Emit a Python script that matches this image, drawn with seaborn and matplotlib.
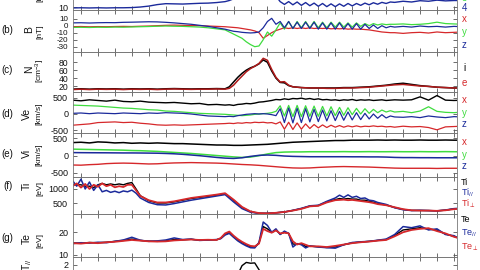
import numpy as np
import matplotlib
matplotlib.use("Agg")
import matplotlib.pyplot as plt
import seaborn as sns

sns.set_style("white")
plt.rcParams["font.family"] = ["Liberation Sans", "DejaVu Sans"]
plt.rcParams["axes.unicode_minus"] = False
plt.rcParams["mathtext.fontset"] = "custom"
plt.rcParams["mathtext.rm"] = "Liberation Sans"
plt.rcParams["mathtext.it"] = "Liberation Sans:italic"
plt.rcParams["mathtext.bf"] = "Liberation Sans:bold"

RED = "#d6282b"
GREEN = "#3fdc3f"
NAVY = "#1b2a9b"
BLACK = "#000000"

# ---------------- time grids (minutes, tick units) ----------------
t_ab = np.concatenate([np.arange(-1, 17) * 0.5, np.arange(34, 74) * 0.25, np.arange(37, 46) * 0.5])
t_c = np.concatenate([np.arange(-1, 17) * 0.5, np.arange(34, 50) * 0.25, np.arange(25, 46) * 0.5])
t_e = np.arange(-1, 46) * 0.5
t_f = np.concatenate([np.arange(-2, 14) * 0.25, np.arange(7, 30) * 0.5, np.arange(60, 70) * 0.25, np.arange(35, 46) * 0.5])
t_g = np.concatenate([np.arange(-1, 16) * 0.5, np.arange(32, 54) * 0.25, np.arange(27, 46) * 0.5])

# ---------------- (a) |B| ----------------
a_b4 = ([9.6, 9.7, 9.6, 9.7, 9.6, 9.7, 9.7, 9.8, 10.1, 10.6, 11.4, 11.9, 11.8, 11.7, 11.9, 12.1, 12.2, 12.5]
        + [13.0, 13.6, 14.5, 16, 19, 23, 27, 32, 35, 35, 32, 24, 16, 13, 11.5, 13, 11.3, 12.8, 11, 12.5,
           10.8, 12.2, 10.5, 12, 10.3, 11.8, 10.3, 11.8, 10.5, 12, 10.7, 12, 11, 12.2, 11.3, 12.4, 11.6, 12.6, 12, 12.8]
        + [12.6, 13.2, 12.8, 13.5, 13.2, 13.8, 13.4, 13.6, 13.6])

# ---------------- (b) B components [nT] ----------------
b_x = ([-1.5, -1.2, -1.6, -1.3, -1.5, -1.2, -1.0, -1.2, -0.8, -0.5, 0, 0.5, 0.8, 0.5, 0.2, 0, -0.5, -1.0]
       + [-1.5, -2, -2.5, -3, -4, -5, -6, -7.5, -10, -18, -14, -10, -7, -5, -3, -4, -3, -4, -3, -4,
          -3, -4, -3.5, -4, -3.5, -4.5, -4, -4.5, -4, -5, -4.5, -5, -5, -5.5, -6, -7, -8, -9, -9.5, -10]
       + [-10, -11, -10, -9.5, -10.5, -9, -10, -9.5, -9])
b_y = ([-2.5, -2.3, -2.6, -2.2, -2.4, -2.0, -2.2, -1.8, -1.5, -1.2, -0.8, -0.5, -0.8, -1.0, -1.5, -2.0, -3.0, -4.5]
       + [-6, -9, -12, -15, -18, -23, -27, -30, -29, -20, -9, -15, -6, 4, -5, 6, -4, 6, -3, 6,
          -3, 6, -3, 5, -3, 5, -2, 5, -2, 4, -2, 4, -1, 3, 0, 3, 1, 2.5, 1.5, 2]
       + [2, 2.5, 1.5, 2, 3, 5, 3, 2.5, 2])
b_z = ([4.0, 4.2, 3.8, 4.2, 4.4, 4.3, 4.8, 5.0, 5.3, 5.6, 5.4, 4.8, 4.0, 3.0, 2.0, 0.5, -1.0, -3.0]
       + [-5, -6.5, -8, -8.6, -9.5, -10, -10.4, -10, -9, -3, 6, 10.5, 2, 6, -3, 6, -4, 5, -4, 5,
          -4, 5, -5, 4, -5, 4, -5, 4, -5, 3, -5, 3, -5, 2, -4, 1, -4, 0, -3, -1]
       + [-2, -1, -2, -0.5, -1.5, -1, -2, -1, -1.5])

# ---------------- (c) density [cm^-3] ----------------
n_i = ([12, 13, 12, 13, 12.5, 13, 12, 13, 12.5, 13, 12, 13, 13.5, 13, 12.5, 13, 13, 13.5]
       + [13, 18, 30, 42, 52, 60, 66, 70, 76, 86, 80, 58, 40, 29, 28, 21]
       + [18, 16, 15, 15, 15, 15, 16, 16, 17, 18, 20, 22, 25, 27, 24, 21, 19, 17, 16, 15, 15])
n_e = ([11, 12, 11, 12, 11.5, 12, 11, 12, 11.5, 12, 11, 12, 12.5, 12, 11.5, 12, 12, 12.5]
       + [12, 14, 22, 34, 45, 56, 64, 70, 77, 90, 85, 62, 42, 30, 31, 22]
       + [18, 16, 15, 15, 14, 14, 15, 15, 16, 17, 19, 21, 23, 24, 22, 20, 19, 17, 16, 15, 15])

# ---------------- (d) Ve [km/s] ----------------
ve_x = ([-340, -320, -300, -260, -250, -240, -260, -250, -280, -300, -330, -340, -330, -340, -330, -320, -310, -300]
        + [-290, -280, -290, -270, -280, -260, -270, -250, -260, -250, -270, -260, -300, -240, -460, -250, -470, -270, -460, -300,
           -440, -320, -420, -330, -410, -340, -400, -350, -400, -360, -390, -360, -390, -370, -380, -360, -380, -370, -390, -380]
        + [-400, -370, -390, -380, -410, -480, -390, -380, -370])
ve_y = ([270, 260, 250, 240, 220, 200, 180, 170, 150, 130, 120, 90, 80, 60, 40, 20, 10, 0]
        + [-10, -20, -30, -40, -50, -40, -30, -10, 0, 10, 20, 40, 80, 250, -60, 260, -80, 260, -80, 250,
           -70, 240, -70, 230, -60, 220, -50, 200, -40, 190, -20, 170, 0, 160, 20, 140, 40, 120, 60, 100]
        + [60, 80, 40, 90, 220, 80, 50, 40, 60])
ve_z = ([20, 30, 10, 30, 20, 10, 30, 20, 10, 30, 20, 40, 30, 20, 0, -30, -60, -70]
        + [-80, -70, -80, -50, -30, -10, 0, 10, 0, 10, 0, -20, -50, 160, -260, 180, -270, 170, -260, 160,
           -240, 140, -230, 120, -210, 100, -200, 80, -190, 60, -180, 40, -170, 20, -150, 0, -130, -20, -120, -60]
        + [-90, -100, -80, -110, -60, -90, -110, -80, -90])
ve_mag = ([420, 400, 430, 410, 390, 420, 380, 370, 390, 360, 350, 340, 350, 330, 310, 320, 280, 290]
          + [270, 280, 260, 290, 300, 320, 310, 330, 360, 370, 390, 410, 440, 430, 460, 440, 470, 460, 480, 450,
             470, 440, 460, 430, 440, 420, 430, 410, 430, 420, 440, 410, 430, 420, 430, 410, 420, 430, 410, 420]
          + [430, 420, 430, 520, 420, 560, 420, 410, 420])

# ---------------- (e) Vi [km/s] ----------------
vi_mag = [380, 390, 370, 400, 390, 370, 380, 360, 370, 360, 370, 360, 350, 350, 340, 330, 320, 310, 310, 300,
          300, 310, 320, 330, 350, 370, 390, 400, 410, 420, 430, 440, 440, 450, 450, 450, 455, 450, 455, 450,
          450, 455, 450, 450, 455, 450, 450]
vi_y = [190, 185, 180, 175, 170, 165, 160, 150, 145, 135, 125, 110, 95, 80, 65, 45, 25, 5, -15, -35,
        -50, -40, 0, 50, 90, 105, 110, 110, 115, 115, 115, 115, 118, 115, 115, 118, 115, 115, 118, 115,
        115, 118, 115, 115, 118, 115, 115]
vi_z = [90, 88, 86, 85, 84, 82, 80, 80, 78, 75, 72, 65, 55, 40, 20, 0, -25, -50, -70, -80,
        -60, -20, 10, 20, 10, -10, -20, -25, -30, -30, -30, -30, -30, -32, -32, -35, -35, -40, -50, -55,
        -55, -58, -58, -60, -60, -60, -60]
vi_x = [-270, -275, -260, -250, -230, -220, -215, -220, -230, -240, -235, -220, -210, -205, -200, -205, -210, -215, -225, -240,
        -255, -265, -280, -300, -320, -340, -355, -360, -355, -340, -330, -320, -315, -320, -325, -330, -340, -350, -360, -365,
        -365, -365, -365, -370, -365, -365, -365]

# ---------------- (f) Ti [eV] ----------------
ti = ([1150, 1150, 1150, 1100, 1100, 1050, 1150, 1200, 1150, 1180, 1150, 1180, 1150, 1200, 1230, 1000]
      + [760, 580, 500, 500, 540, 600, 660, 700, 740, 780, 830, 600, 340, 190, 135, 130, 150, 180, 235, 300, 390, 410, 540]
      + [620, 660, 640, 660, 640, 640, 600, 600, 560, 530]
      + [480, 430, 340, 270, 235, 235, 230, 220, 245, 290, 310])
ti_par = ([1300, 1100, 1350, 1000, 1250, 950, 1150, 900, 950, 880, 920, 870, 930, 900, 960, 850]
          + [680, 520, 440, 430, 480, 540, 600, 650, 700, 750, 800, 540, 300, 170, 130, 130, 150, 180, 240, 310, 400, 420, 560]
          + [680, 780, 700, 790, 700, 740, 660, 680, 600, 580]
          + [520, 450, 330, 260, 230, 240, 230, 220, 250, 300, 320])
ti_perp = ([1100, 1200, 1050, 1180, 1000, 1150, 1080, 1200, 1100, 1150, 1060, 1100, 1070, 1150, 1150, 950]
           + [750, 600, 520, 520, 560, 620, 680, 720, 760, 800, 850, 620, 360, 200, 140, 130, 150, 180, 230, 290, 380, 400, 520]
           + [600, 610, 620, 600, 610, 590, 570, 550, 530, 500]
           + [460, 420, 350, 280, 240, 230, 230, 220, 240, 280, 300])

# ---------------- (g) Te [eV] ----------------
te = ([15.3, 15.2, 15.5, 15.4, 15.6, 16.0, 16.4, 17.0, 16.4, 16.1, 16.0, 16.2, 16.8, 16.7, 16.9, 16.5, 16.6]
      + [16.7, 17.3, 19.0, 19.8, 18.0, 16.6, 15.4, 14.4, 13.6, 13.5, 15.2, 22.5, 21.5, 19.9, 21.0, 19.2, 20.0, 19.5, 14.8, 14.8, 14.9, 13.8]
      + [13.9, 13.6, 13.3, 13.5, 14.5, 15.3, 15.7, 16.0, 16.4, 16.8, 18.6, 21.0, 21.5, 22.0, 21.4, 21.0, 19.2, 18.2, 16.8])
te_par = ([15.0, 15.4, 15.2, 15.6, 15.4, 16.0, 16.6, 17.8, 16.5, 16.0, 16.2, 16.6, 17.5, 16.8, 17.0, 16.4, 16.6]
          + [16.8, 17.2, 18.8, 19.5, 17.8, 16.2, 15.0, 14.0, 13.2, 13.1, 15.5, 24.5, 23.0, 20.0, 21.5, 19.0, 20.5, 19.5, 13.5, 15.0, 14.5, 13.1]
          + [14.0, 13.5, 13.2, 13.0, 14.5, 15.5, 15.8, 16.0, 16.5, 17.0, 19.0, 22.5, 22.0, 22.8, 21.0, 21.5, 19.0, 18.5, 16.5])
te_perp = ([15.2, 15.0, 15.4, 15.2, 15.6, 15.8, 16.2, 16.6, 16.3, 16.0, 15.9, 16.0, 16.4, 16.6, 16.8, 16.6, 16.7]
           + [16.6, 17.5, 19.5, 20.3, 18.5, 17.0, 15.8, 14.8, 14.0, 13.8, 15.0, 21.5, 20.5, 19.8, 20.8, 19.5, 19.8, 19.5, 16.0, 14.6, 15.2, 14.5]
           + [13.8, 13.8, 13.5, 14.0, 14.6, 15.2, 15.6, 15.9, 16.3, 16.6, 18.2, 20.0, 21.0, 21.5, 21.8, 20.5, 19.5, 18.0, 17.0])

# ---------------- (h) T_par ratio ----------------
t_ratio = ([1.0, 1.1, 1.0, 1.1, 1.0, 1.1, 1.0, 1.1, 1.0, 1.1, 1.0, 1.1, 1.0, 1.1, 1.0, 1.1, 1.0]
           + [1.0, 1.1, 1.1, 1.2, 1.3, 1.4, 1.95, 2.15, 2.1, 2.12, 1.7, 1.2, 1.1, 1.0, 1.1, 1.0, 1.1, 1.0, 1.1, 1.0, 1.1, 1.0]
           + [1.0, 1.1, 1.0, 1.1, 1.0, 1.1, 1.0, 1.1, 1.0, 1.1, 1.0, 1.1, 1.0, 1.1, 1.0, 1.1, 1.0, 1.1, 1.0])

# ---------------- figure ----------------
W, H = 480, 270
fig = plt.figure(figsize=(4.8, 2.7), dpi=100)
L, R = 73, 457


def panel(top, bot):
    return fig.add_axes([L / W, 1 - bot / H, (R - L) / W, (bot - top) / H])


def style(ax, ylim, yticks, size=6.5):
    ax.set_xlim(-0.47, 22.18)
    ax.set_ylim(*ylim)
    ax.set_xticks(np.arange(0, 23))
    ax.set_yticks(yticks)
    ax.set_yticklabels([str(v) for v in yticks])
    ax.tick_params(direction="in", top=True, right=True, bottom=True, left=True,
                   length=3, width=0.6, color="#555555", labelsize=size, pad=3.5,
                   labelcolor="#111111")
    ax.tick_params(axis="x", labelbottom=False)
    for s in ax.spines.values():
        s.set_linewidth(0.6)
        s.set_color("#777777")
    ax.set_xlabel("")
    ax.set_ylabel("")
    ax.patch.set_alpha(0)


def draw(ax, t, series):
    for vals, col, lw in series:
        sns.lineplot(x=t, y=np.asarray(vals, dtype=float), ax=ax, color=col, lw=lw,
                     estimator=None, sort=False, legend=False)


def ftext(x, y, s, **kw):
    fig.text(x / W, 1 - y / H, s, **kw)


ax_a = panel(-30, 10)
draw(ax_a, t_ab, [(a_b4, NAVY, 1.0)])
style(ax_a, (8.5, 30), [10])

ax_b = panel(10, 52)
draw(ax_b, t_ab, [(b_x, RED, 0.9), (b_y, GREEN, 0.9), (b_z, NAVY, 0.9)])
style(ax_b, (-37.6, 22.4), [10, 0, -10, -20, -30], size=5.8)

ax_c = panel(52, 91.7)
draw(ax_c, t_c, [(n_i, BLACK, 1.1), (n_e, "#b01a1a", 1.1)])
style(ax_c, (5.6, 106), [20, 40, 60, 80], size=6.2)

ax_d = panel(91.7, 132.7)
draw(ax_d, t_ab, [(ve_mag, BLACK, 1.0), (ve_x, RED, 0.9), (ve_y, GREEN, 0.9), (ve_z, NAVY, 0.9)])
style(ax_d, (-567, 676), [-500, 0, 500])

ax_e = panel(132.7, 177)
draw(ax_e, t_e, [(vi_mag, BLACK, 1.1), (vi_x, RED, 1.0), (vi_y, GREEN, 1.1), (vi_z, NAVY, 1.1)])
style(ax_e, (-618, 667), [-500, 0, 500])

ax_f = panel(177, 214.3)
draw(ax_f, t_f, [(ti, BLACK, 1.0), (ti_par, NAVY, 1.1), (ti_perp, RED, 1.3)])
style(ax_f, (97, 1428), [500, 1000])

ax_g = panel(214.3, 256.8)
draw(ax_g, t_g, [(te, BLACK, 1.0), (te_par, NAVY, 1.1), (te_perp, RED, 1.3)])
style(ax_g, (9.2, 27.9), [10, 20])

ax_h = panel(256.8, 297)
draw(ax_h, t_g, [(t_ratio, BLACK, 1.0)])
style(ax_h, (0, 2.5), [2])

# ---------------- left labels ----------------
lab = dict(ha="center", va="center", color="#111111")
rot = dict(rotation=90, ha="center", va="center", color="#111111")
ftext(40, -5, "[nT]", fontsize=6, **rot)
rows = [("(b)", 30, "B", 29.5, 30, "[nT]", 40, 32),
        ("(c)", 70, "N", 29.5, 69, "[cm$^{-3}$]", 40, 71),
        ("(d)", 114, "Ve", 27, 114, "[km/s]", 38.5, 114),
        ("(e)", 154, "Vi", 27, 153, "[km/s]", 38.5, 155),
        ("(f)", 186, "Ti", 27, 186, "[eV]", 40, 189),
        ("(g)", 238, "Te", 27, 238, "[eV]", 40, 240)]
for tag, ty, name, nx, ny, unit, ux, uy in rows:
    ftext(7.5, ty, tag, fontsize=7, **lab)
    ftext(nx, ny, name, fontsize=7.5, **rot)
    ftext(ux, uy, unit, fontsize=6, **rot)
ftext(27, 265, "T$_{//}$", fontsize=7.5, **rot)

# ---------------- right labels ----------------
rl = dict(ha="center", va="center", fontsize=7)
ftext(464, -2, "3", color=GREEN, **rl)
ftext(464, 8, "4", color=NAVY, **rl)
for (yx, yy, yz) in [(19, 32, 45), (100, 113, 124), (142, 155, 166)]:
    ftext(464, yx, "x", color=RED, **rl)
    ftext(464, yy, "y", color=GREEN, **rl)
    ftext(464, yz, "z", color=NAVY, **rl)
ftext(464, 68, "i", color=BLACK, **rl)
ftext(464, 83, "e", color=RED, **rl)
ll = dict(ha="left", va="center", fontsize=6.5)
ftext(461, 182.5, "Ti", color=BLACK, **ll)
ftext(461, 192.5, "Ti$_{//}$", color=NAVY, **ll)
ftext(461, 203.5, "Ti$_{\\perp}$", color=RED, **ll)
ftext(461, 220, "Te", color=BLACK, **ll)
ftext(461, 233, "Te$_{//}$", color=NAVY, **ll)
ftext(461, 247.5, "Te$_{\\perp}$", color=RED, **ll)

fig.savefig("out.png", dpi=100)
